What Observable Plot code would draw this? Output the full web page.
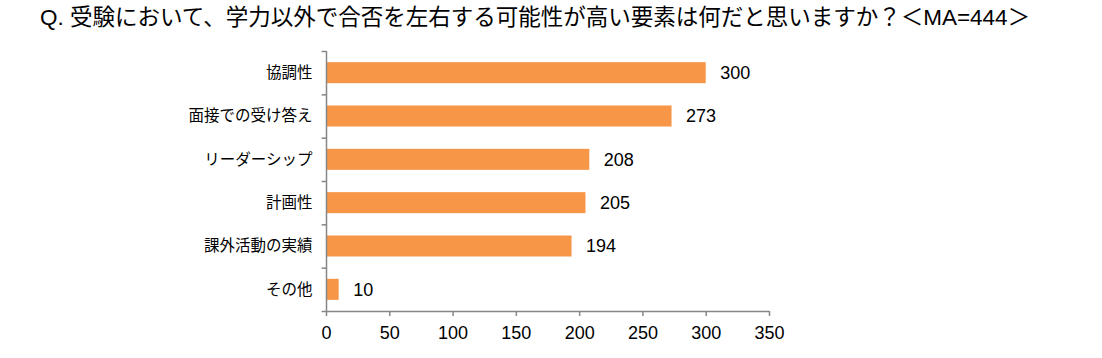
<!DOCTYPE html>
<html>
<head>
<meta charset="utf-8">
<script src="https://cdn.jsdelivr.net/npm/d3@7"></script>
<script src="https://cdn.jsdelivr.net/npm/@observablehq/plot@0.6"></script>
<style>
  body { margin: 0; background: #fff; }
  #title { height: 36px; line-height: 36px; padding-left: 40px; font-size: 22.5px; color: #000;
    font-family: "Liberation Sans", Arial, "Noto Sans CJK JP", sans-serif; white-space: nowrap; }
</style>
</head>
<body>
<div id="title">Q. 受験において、学力以外で合否を左右する可能性が高い要素は何だと思いますか？＜MA=444＞</div>
<div id="chart"></div>
<script>
const categories = ["協調性", "面接での受け答え", "リーダーシップ", "計画性", "課外活動の実績", "その他"];
const values = [300, 273, 208, 205, 194, 10];
const xTicks = [0, 50, 100, 150, 200, 250, 300, 350];

const data = categories.map((name, i) => ({name, value: values[i], i}));
const half = 0.2425;
const axisColor = "#868686";

const chart = Plot.plot({
  width: 1102,
  height: 322,
  marginLeft: 326,
  marginRight: 333,
  marginTop: 15,
  marginBottom: 47,
  style: {fontFamily: "'Liberation Sans', Arial, 'Noto Sans CJK JP', sans-serif", background: "#fff", color: "#000"},
  x: {domain: [0, 350], axis: null, label: null},
  y: {domain: [0, categories.length], range: [15, 275], axis: null, label: null},
  marks: [
    Plot.rect(data, {x1: 0, x2: "value", y1: d => d.i + 0.5 - half, y2: d => d.i + 0.5 + half, fill: "#F79646"}),
    Plot.ruleX([0], {y1: 0, y2: categories.length, stroke: axisColor, strokeWidth: 1.5}),
    Plot.ruleY([categories.length], {x1: 0, x2: 350, stroke: axisColor, strokeWidth: 1.5}),
    Plot.ruleY(d3.range(categories.length + 1), {x1: -3.5, x2: 0, stroke: axisColor, strokeWidth: 1.5}),
    Plot.axisX({ticks: xTicks, tickSize: 5, tickPadding: 10, fontSize: 18, stroke: axisColor, strokeWidth: 1.5, tickFormat: d => d, label: null, anchor: "bottom"}),
    Plot.text(data, {x: 0, y: d => d.i + 0.5, text: "name", textAnchor: "end", dx: -14, fontSize: 15.5, fill: "#000"}),
    Plot.text(data, {x: "value", y: d => d.i + 0.5, text: d => String(d.value), textAnchor: "start", dx: 14, fontSize: 18, fill: "#000"})
  ]
});
document.getElementById("chart").appendChild(chart);
</script>
</body>
</html>
